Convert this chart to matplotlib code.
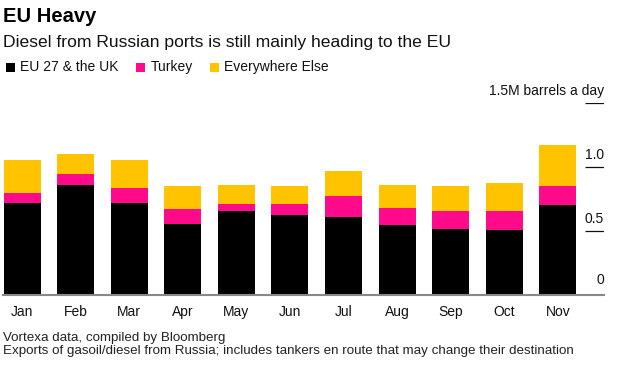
import matplotlib
matplotlib.use("Agg")
import matplotlib.pyplot as plt
import matplotlib.transforms as mtransforms
from matplotlib.patches import Rectangle
import numpy as np

months = ["Jan", "Feb", "Mar", "Apr", "May", "Jun", "Jul", "Aug", "Sep", "Oct", "Nov"]
eu_uk = [0.717, 0.863, 0.717, 0.557, 0.659, 0.628, 0.612, 0.548, 0.518, 0.510, 0.702]
turkey = [0.079, 0.081, 0.122, 0.117, 0.050, 0.088, 0.165, 0.134, 0.141, 0.144, 0.153]
elsewhere = [0.263, 0.162, 0.220, 0.181, 0.154, 0.139, 0.196, 0.181, 0.196, 0.225, 0.317]
series_names = ["EU 27 & the UK", "Turkey", "Everywhere Else"]
colors = ["#000000", "#ff0a8a", "#ffc300"]
yticks = [0.5, 1.0, 1.5]
ytick_labels = ["0.5", "1.0", "1.5M barrels a day"]

plt.rcParams['font.family'] = ['Liberation Sans', 'DejaVu Sans']

fig = plt.figure(figsize=(6.18, 3.65), dpi=100)
ax = fig.add_axes([3/618, 70/365, 601/618, 191.6/365])

x = np.arange(len(months))
w = 0.69
b1 = np.array(eu_uk)
b2 = b1 + np.array(turkey)
ax.bar(x, eu_uk, w, color=colors[0], linewidth=0)
ax.bar(x, turkey, w, bottom=b1, color=colors[1], linewidth=0)
ax.bar(x, elsewhere, w, bottom=b2, color=colors[2], linewidth=0)

ax.set_xlim(-0.355, 10.86)
ax.set_ylim(0, 1.5)
for s in ["top", "right", "left"]:
    ax.spines[s].set_visible(False)
ax.spines["bottom"].set_color("#888888")
ax.spines["bottom"].set_linewidth(1.5)
ax.set_yticks([])
ax.set_xticks(x)
ax.set_xticklabels(months, fontsize=10, color="#111111")
ax.tick_params(axis="x", length=0, pad=7)

trans = mtransforms.blended_transform_factory(ax.transAxes, ax.transData)
ax.hlines(yticks, 0.968, 1.0, transform=trans, color="#111111", linewidth=0.9)
for v, lab in zip(yticks, ytick_labels):
    ax.text(1.0, v + 0.066, lab, transform=trans, ha="right", va="baseline", fontsize=10, color="#111111")
ax.text(1.0, 0.086, "0", transform=trans, ha="right", va="baseline", fontsize=10, color="#111111")

fig.text(3/618, 1 - 22.5/365, "EU Heavy", fontsize=14.5, fontweight="bold", color="#000000", va="baseline")
fig.text(3/618, 1 - 46.5/365, "Diesel from Russian ports is still mainly heading to the EU", fontsize=12.6, color="#111111", va="baseline")

# legend
lx = 6
ly = 71.5
for name, c in zip(series_names, colors):
    fig.patches.append(Rectangle((lx/618, 1 - ly/365), 9/618, 9/365, transform=fig.transFigure, color=c, linewidth=0))
    t = fig.text((lx + 14.5)/618, 1 - 71/365, name, fontsize=10, color="#111111", va="baseline")
    fig.canvas.draw()
    bb = t.get_window_extent()
    lx = bb.x1 + 17

fig.text(3/618, 1 - 341/365, "Vortexa data, compiled by Bloomberg", fontsize=9.6, color="#222222", va="baseline")
fig.text(3/618, 1 - 354.3/365, "Exports of gasoil/diesel from Russia; includes tankers en route that may change their destination", fontsize=9.6, color="#222222", va="baseline")

fig.savefig("out.png", dpi=100)
